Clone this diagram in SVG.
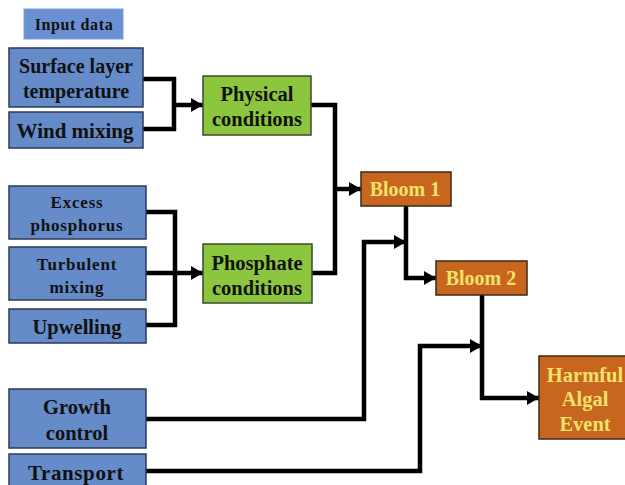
<svg xmlns="http://www.w3.org/2000/svg" width="625" height="485" viewBox="0 0 625 485">
<style>
.in{fill:#658bc9;stroke:#2c3a58;stroke-width:1.5}
.hd{fill:#6a8fd2;stroke:#7d9fd8;stroke-width:1}
.gr{fill:#8cc63f;stroke:#3d4a2a;stroke-width:1.5}
.or{fill:#c8661f;stroke:#3a2a1a;stroke-width:1.5}
text{font-family:"Liberation Serif","Times New Roman",serif;font-weight:bold;text-anchor:middle}
.k{fill:#111}
.y{fill:#f2e36a}
.ln{fill:none;stroke:#000;stroke-width:4.5;stroke-linejoin:miter}
</style>
<defs>
<marker id="ah" markerUnits="userSpaceOnUse" markerWidth="12" markerHeight="14" refX="12" refY="7" orient="auto">
<path d="M0,0 L12,7 L0,14 Z" fill="#000"/>
</marker>
</defs>
<rect width="625" height="485" fill="#fff"/>
<g id="connectors">
<polyline class="ln" points="143,79 174,79 174,129 143,129"/>
<line class="ln" x1="174" y1="105" x2="203" y2="105" marker-end="url(#ah)"/>
<polyline class="ln" points="146,212 175,212 175,325 146,325"/>
<line class="ln" x1="146" y1="273" x2="203" y2="273" marker-end="url(#ah)"/>
<polyline class="ln" points="311,105 335,105 335,273 312,273"/>
<line class="ln" x1="335" y1="189" x2="361" y2="189" marker-end="url(#ah)"/>
<polyline class="ln" points="406,206 406,278 436,278" marker-end="url(#ah)"/>
<polyline class="ln" points="146,419 364,419 364,242 406,242" marker-end="url(#ah)"/>
<polyline class="ln" points="482,295 482,398 539,398" marker-end="url(#ah)"/>
<polyline class="ln" points="146,471 420,471 420,346 482,346" marker-end="url(#ah)"/>
</g>
<g id="input-data"><rect class="hd" x="24" y="9" width="99" height="30"/><text class="k" x="74" y="30" font-size="16" letter-spacing="0.6">Input data</text></g>
<g id="surface"><rect class="in" x="9" y="48" width="134" height="59"/><text class="k" x="76" y="73" font-size="20">Surface layer</text><text class="k" x="76" y="98" font-size="20">temperature</text></g>
<g id="wind"><rect class="in" x="9" y="112" width="134" height="36"/><text class="k" x="75" y="138" font-size="21">Wind mixing</text></g>
<g id="physical"><rect class="gr" x="203" y="76" width="108" height="59"/><text class="k" x="257" y="101" font-size="20.5">Physical</text><text class="k" x="257" y="126" font-size="20.5">conditions</text></g>
<g id="excess"><rect class="in" x="9" y="186" width="137" height="53"/><text class="k" x="77" y="208" font-size="17" letter-spacing="0.8">Excess</text><text class="k" x="77" y="231" font-size="17" letter-spacing="0.8">phosphorus</text></g>
<g id="turbulent"><rect class="in" x="9" y="247" width="137" height="53"/><text class="k" x="77" y="270" font-size="17" letter-spacing="0.8">Turbulent</text><text class="k" x="77" y="293" font-size="17" letter-spacing="0.8">mixing</text></g>
<g id="upwelling"><rect class="in" x="9" y="309" width="137" height="34"/><text class="k" x="77" y="334" font-size="20.5">Upwelling</text></g>
<g id="phosphate"><rect class="gr" x="203" y="244" width="109" height="59"/><text class="k" x="257" y="270" font-size="20.5">Phosphate</text><text class="k" x="257" y="295" font-size="20.5">conditions</text></g>
<g id="bloom1"><rect class="or" x="361" y="172" width="90" height="34"/><text class="y" x="405" y="196" font-size="20">Bloom 1</text></g>
<g id="bloom2"><rect class="or" x="436" y="261" width="91" height="34"/><text class="y" x="481" y="285" font-size="20">Bloom 2</text></g>
<g id="harmful"><rect class="or" x="539" y="356" width="90" height="83"/><text class="y" x="585" y="382" font-size="20.5">Harmful</text><text class="y" x="585" y="406" font-size="20.5">Algal</text><text class="y" x="585" y="431" font-size="20.5">Event</text></g>
<g id="growth"><rect class="in" x="9" y="389" width="137" height="59"/><text class="k" x="77" y="414" font-size="20.5">Growth</text><text class="k" x="77" y="440" font-size="20.5">control</text></g>
<g id="transport"><rect class="in" x="9" y="454" width="137" height="34"/><text class="k" x="76" y="480" font-size="21" letter-spacing="0.6">Transport</text></g>
</svg>
